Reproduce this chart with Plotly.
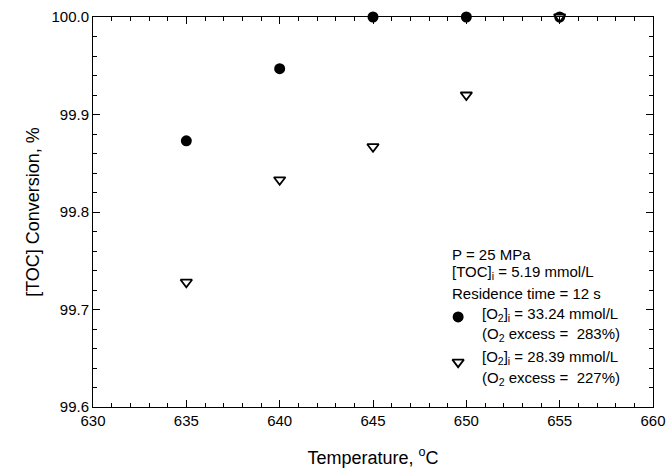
import plotly.graph_objects as go

# Data
temp_o2_high = [635, 640, 645, 650, 655]
conv_o2_high = [99.873, 99.947, 100.0, 100.0, 100.0]
temp_o2_low = [635, 640, 645, 650, 655]
conv_o2_low = [99.728, 99.833, 99.867, 99.920, 100.0]

x_ticks = [630, 635, 640, 645, 650, 655, 660]
y_ticks = [99.6, 99.7, 99.8, 99.9, 100.0]
y_tick_labels = ["99.6", "99.7", "99.8", "99.9", "100.0"]

FONT = "Liberation Sans, Arial, sans-serif"

fig = go.Figure()
fig.add_trace(go.Scatter(
    x=temp_o2_high, y=conv_o2_high, mode="markers", cliponaxis=False,
    marker=dict(symbol="circle", size=11, color="black", line=dict(width=0)),
    showlegend=False))
fig.add_trace(go.Scatter(
    x=temp_o2_low, y=conv_o2_low, mode="markers", cliponaxis=False,
    marker=dict(symbol="triangle-down", size=10, color="white",
                line=dict(width=1.8, color="black")),
    showlegend=False))

# legend keys on an overlay axis spanning the plot area
fig.add_trace(go.Scatter(
    x=[0.652], y=[0.231], xaxis="x2", yaxis="y2", mode="markers", cliponaxis=False,
    marker=dict(symbol="circle", size=11, color="black", line=dict(width=0)),
    showlegend=False, hoverinfo="skip"))
fig.add_trace(go.Scatter(
    x=[0.652], y=[0.115], xaxis="x2", yaxis="y2", mode="markers", cliponaxis=False,
    marker=dict(symbol="triangle-down", size=10, color="white",
                line=dict(width=1.8, color="black")),
    showlegend=False, hoverinfo="skip"))

axis_common = dict(
    showgrid=False, zeroline=False, showline=True, linecolor="black", linewidth=1,
    mirror="ticks", ticks="inside", ticklen=7, tickwidth=1, tickcolor="black",
    tickfont=dict(family=FONT, size=15, color="black"), automargin=False,
)

fig.update_layout(
    width=666, height=468,
    margin=dict(l=93, r=13, t=17, b=61),
    paper_bgcolor="white", plot_bgcolor="white",
    font=dict(family=FONT, size=15, color="black"),
    hovermode=False,
    xaxis=dict(
        range=[630, 660], tickvals=x_ticks, **axis_common,
        minor=dict(dtick=1, ticks="inside", ticklen=4, tickcolor="black", tickwidth=1),
        title=dict(text="Temperature, <sup>o</sup>C", font=dict(family=FONT, size=18), standoff=24),
    ),
    yaxis=dict(
        range=[99.6, 100.0], tickvals=y_ticks, ticktext=y_tick_labels, **axis_common,
        minor=dict(dtick=0.02, ticks="inside", ticklen=4, tickcolor="black", tickwidth=1),
        title=dict(text="[TOC] Conversion, %", font=dict(family=FONT, size=18), standoff=7),
    ),
    xaxis2=dict(range=[0, 1], overlaying="x", visible=False, fixedrange=True),
    yaxis2=dict(range=[0, 1], overlaying="y", visible=False, fixedrange=True),
)

lines = [
    ("P = 25 MPa", 0.638, 0.392),
    ("[TOC]<sub>i</sub> = 5.19 mmol/L", 0.638, 0.344),
    ("Residence time = 12 s", 0.638, 0.290),
    ("[O<sub>2</sub>]<sub>i</sub> = 33.24 mmol/L", 0.691, 0.238),
    ("(O<sub>2</sub> excess =  283%)", 0.691, 0.185),
    ("[O<sub>2</sub>]<sub>i</sub> = 28.39 mmol/L", 0.691, 0.126),
    ("(O<sub>2</sub> excess =  227%)", 0.691, 0.072),
]
for text, x, y in lines:
    fig.add_annotation(text=text, x=x, y=y, xref="x domain", yref="y domain",
                       xanchor="left", yanchor="middle", showarrow=False,
                       font=dict(family=FONT, size=15, color="black"))

fig.write_html(
    "out.html",
    config={"displayModeBar": False, "staticPlot": True},
    post_script="document.body.style.margin='0';document.body.style.overflow='hidden';",
)
